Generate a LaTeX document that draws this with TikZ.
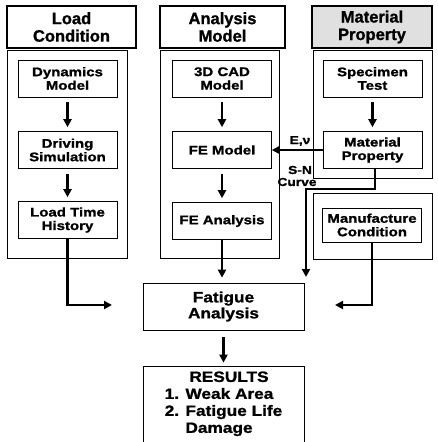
\documentclass[tikz,border=0pt]{standalone}
\usepackage{fontspec}
\setmainfont{Liberation Sans}[BoldFeatures={FakeBold=1.2}]
\newfontfamily\fin{Liberation Sans}[FakeStretch=1.2, BoldFeatures={FakeBold=1.2}]
\newfontfamily\fbig{Liberation Sans}[FakeStretch=1.15, BoldFeatures={FakeBold=1.2}]
\usetikzlibrary{arrows.meta}
\begin{document}
\begin{tikzpicture}[x=1pt,y=-1pt,
  hdr/.style={draw, line width=1.2pt, inner sep=0pt, align=center,
    font=\fontsize{16.5}{17.5}\selectfont\bfseries},
  panel/.style={draw, line width=0.6pt, inner sep=0pt},
  inbox/.style={draw, line width=0.6pt, inner sep=0pt, align=center,
    minimum width=99pt, minimum height=37pt,
    font=\fin\fontsize{12.5}{13.5}\selectfont\bfseries},
  bigbox/.style={draw, line width=0.7pt, inner sep=0pt, align=center,
    minimum width=161pt, font=\fbig\fontsize{15}{16}\selectfont\bfseries},
  lbl/.style={inner sep=0pt, font=\fin\fontsize{11.5}{12}\selectfont\bfseries},
  arr/.style={line width=2.6pt, -{Triangle[length=8pt,width=8pt]}}]
\useasboundingbox (0,0) rectangle (437,442);

% headers
\node[hdr, minimum width=129pt, minimum height=42pt] (hL) at (71.5,27) {Load\\Condition};
\node[hdr, minimum width=125pt, minimum height=42pt] (hA) at (222.5,27) {Analysis\\Model};
\node[hdr, fill=black!12, minimum width=120pt, minimum height=42pt] (hM) at (372,27) {Material\\Property};

% panels
\node[panel, minimum width=120pt, minimum height=208pt] (pL) at (67,154) {};
\node[panel, minimum width=119pt, minimum height=208pt] (pA) at (219.5,154) {};
\node[panel, minimum width=119pt, minimum height=128pt] (pM) at (372.5,114) {};
\node[panel, minimum width=119pt, minimum height=66pt] (pF) at (372.5,226) {};

% inner boxes
\node[inbox] (dyn) at (67.5,78.5) {Dynamics\\Model};
\node[inbox] (drv) at (67.5,150) {Driving\\Simulation};
\node[inbox] (lth) at (67.5,220) {Load Time\\History};
\node[inbox] (cad) at (222,78.5) {3D CAD\\Model};
\node[inbox] (fem) at (222,150) {FE Model};
\node[inbox] (fea) at (222,221) {FE Analysis};
\node[inbox] (spc) at (372.5,78.5) {Specimen\\Test};
\node[inbox] (mat) at (372.5,150) {Material\\Property};
\node[inbox, minimum height=34pt] (man) at (372,225) {Manufacture\\Condition};

% lower boxes
\node[bigbox, minimum height=47pt] (fat) at (223.5,306.5) {Fatigue\\Analysis};
\node[bigbox, minimum height=76pt, font=\fbig\fontsize{15}{17}\selectfont\bfseries] (res) at (223.5,404)
  {\begin{tabular}{@{}l@{}}\multicolumn{1}{c}{\hspace*{11pt}RESULTS}\\1. Weak Area\\2. Fatigue Life\\\phantom{2. }Damage\end{tabular}};

% labels
\node[lbl] (lE) at (300,141) {E,ν};
\node[lbl] (lS) at (300,170) {S-N};
\node[lbl] (lC) at (297,182) {Curve};

% free ends
\coordinate (lt) at (112,305);
\coordinate (sn) at (306,277);
\coordinate (mf) at (335,305);

% arrows
\draw[arr, shorten <=5pt, shorten >=4pt] (dyn) -- (drv);
\draw[arr, shorten <=5pt, shorten >=4pt] (drv) -- (lth);
\draw[arr, shorten <=5pt, shorten >=4pt] (cad) -- (fem);
\draw[arr, shorten <=5pt, shorten >=4pt] (fem) -- (fea);
\draw[arr, shorten <=5pt, shorten >=4pt] (spc) -- (mat);
\draw[arr] (lth.south) |- (lt);
\draw[arr, shorten >=5pt] (fea.south) -- (fea.south |- fat.north);
\draw[arr] (mat.west) -- (fem.east);
\draw[arr] ([xshift=2.5pt]mat.south) -- ++(0,20) -| (sn);
\draw[arr] (man.south) |- (mf);
\draw[arr, shorten <=7pt, shorten >=3pt] (fat.south) -- (fat.south |- res.north);
\end{tikzpicture}
\end{document}
